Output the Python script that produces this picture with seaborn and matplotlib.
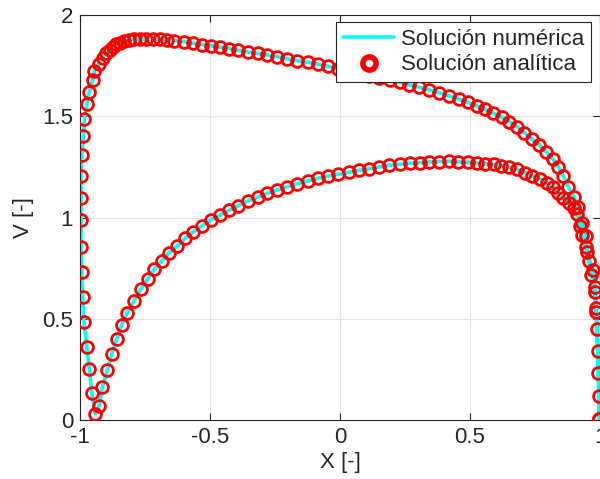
import numpy as np
import pandas as pd
import matplotlib
matplotlib.use("Agg")
import matplotlib.pyplot as plt
import seaborn as sns

# Lower surface: from trailing edge (x=1) to the front stagnation point
lower_x = [0.998, 0.994, 0.988, 0.984, 0.979, 0.967, 0.956, 0.945, 0.929, 0.923,
           0.913, 0.900, 0.882, 0.859, 0.840, 0.818, 0.795, 0.769, 0.740, 0.712,
           0.680, 0.651, 0.621, 0.592, 0.559, 0.526, 0.491, 0.454, 0.418, 0.382,
           0.343, 0.308, 0.269, 0.231, 0.190, 0.151, 0.113, 0.073, 0.035, -0.007,
           -0.046, -0.085, -0.124, -0.164, -0.203, -0.241, -0.280, -0.317, -0.353, -0.391,
           -0.426, -0.462, -0.497, -0.530, -0.564, -0.596, -0.626, -0.658, -0.686, -0.714,
           -0.740, -0.767, -0.792, -0.818, -0.840, -0.859, -0.878, -0.895, -0.914, -0.927,
           -0.942]
lower_v = [0.003, 0.231, 0.448, 0.535, 0.634, 0.716, 0.787, 0.856, 0.912, 0.960,
           1.016, 1.045, 1.070, 1.095, 1.120, 1.149, 1.172, 1.190, 1.206, 1.221,
           1.238, 1.248, 1.256, 1.262, 1.266, 1.269, 1.273, 1.274, 1.278, 1.276,
           1.274, 1.271, 1.268, 1.263, 1.258, 1.249, 1.241, 1.233, 1.223, 1.213,
           1.205, 1.194, 1.180, 1.167, 1.152, 1.136, 1.120, 1.100, 1.083, 1.058,
           1.036, 1.012, 0.988, 0.959, 0.930, 0.897, 0.859, 0.826, 0.785, 0.744,
           0.696, 0.645, 0.589, 0.530, 0.469, 0.399, 0.326, 0.247, 0.161, 0.069,
           0.030]

# Upper surface: from the stagnation point around the leading edge back to x=1
upper_x = [-0.955, -0.964, -0.974, -0.985, -0.990, -0.993, -0.996, -0.996, -0.996, -0.996,
           -0.993, -0.987, -0.983, -0.974, -0.964, -0.951, -0.945, -0.928, -0.913, -0.899,
           -0.886, -0.873, -0.860, -0.845, -0.829, -0.812, -0.793, -0.771, -0.745, -0.719,
           -0.692, -0.665, -0.637, -0.601, -0.564, -0.530, -0.497, -0.462, -0.426, -0.391,
           -0.354, -0.317, -0.280, -0.241, -0.203, -0.164, -0.124, -0.085, -0.047, -0.009,
           0.031, 0.069, 0.112, 0.150, 0.192, 0.231, 0.267, 0.305, 0.343, 0.382,
           0.420, 0.457, 0.491, 0.526, 0.558, 0.590, 0.622, 0.651, 0.682, 0.709,
           0.737, 0.767, 0.792, 0.818, 0.840, 0.859, 0.878, 0.900, 0.917, 0.932,
           0.946, 0.951, 0.972, 0.981, 0.986, 0.991, 0.996, 0.998]
upper_v = [0.135, 0.250, 0.362, 0.485, 0.609, 0.732, 0.856, 0.988, 1.098, 1.206,
           1.309, 1.402, 1.486, 1.559, 1.622, 1.679, 1.723, 1.759, 1.788, 1.812,
           1.829, 1.843, 1.855, 1.864, 1.873, 1.877, 1.880, 1.881, 1.882, 1.881,
           1.880, 1.878, 1.874, 1.868, 1.860, 1.854, 1.848, 1.841, 1.834, 1.826,
           1.817, 1.810, 1.802, 1.794, 1.783, 1.774, 1.766, 1.757, 1.747, 1.735,
           1.723, 1.711, 1.699, 1.689, 1.679, 1.668, 1.654, 1.643, 1.630, 1.616,
           1.600, 1.585, 1.569, 1.551, 1.534, 1.515, 1.495, 1.473, 1.448, 1.419,
           1.388, 1.358, 1.325, 1.289, 1.251, 1.205, 1.152, 1.103, 1.053, 0.974,
           0.909, 0.831, 0.741, 0.655, 0.552, 0.342, 0.119, 0.003]

df = pd.DataFrame({"X": lower_x + upper_x, "V": lower_v + upper_v})

sns.set_style("whitegrid")
plt.rcParams["font.family"] = ["Liberation Sans", "DejaVu Sans"]

fig = plt.figure(figsize=(6.0, 4.79), dpi=100)
ax = fig.add_axes([80 / 600, 59 / 479, 520 / 600, 405 / 479])

sns.lineplot(data=df, x="X", y="V", sort=False, estimator=None, color="cyan",
             linewidth=2.6, label="Solución numérica", ax=ax, zorder=2)
sns.lineplot(data=df, x="X", y="V", sort=False, estimator=None, linestyle="",
             marker="o", markersize=8.5, markerfacecolor="none", markeredgecolor="red",
             markeredgewidth=2.0, color="red", label="Solución analítica", ax=ax, zorder=3)

ax.set_xlim(-1, 1)
ax.set_ylim(0, 2)
ax.set_xticks([-1, -0.5, 0, 0.5, 1])
ax.set_xticklabels(["-1", "-0.5", "0", "0.5", "1"])
ax.set_yticks([0, 0.5, 1, 1.5, 2])
ax.set_yticklabels(["0", "0.5", "1", "1.5", "2"])
ax.set_xlabel("X [-]", fontsize=16, labelpad=3)
ax.set_ylabel("V [-]", fontsize=16, labelpad=6)
ax.tick_params(labelsize=16, direction="in", length=5, width=0.8, color="#262626",
               top=True, right=True, bottom=True, left=True, pad=5)
ax.grid(True, color="#e3e3e3", linewidth=0.8)
for s in ax.spines.values():
    s.set_color("#262626")
    s.set_linewidth(0.8)

leg = ax.legend(loc="upper right", bbox_to_anchor=(0.982, 0.982), fontsize=16,
                frameon=True, fancybox=False, framealpha=1, edgecolor="#262626",
                borderpad=0.3, handlelength=2.3, handletextpad=0.3, labelspacing=0.2,
                borderaxespad=0)
leg.get_frame().set_linewidth(0.8)
# legend marker in the reference is a heavy ring
leg.legend_handles[1].set_markersize(9.5)
leg.legend_handles[1].set_markeredgewidth(4.0)

fig.savefig("out.png", dpi=100)
